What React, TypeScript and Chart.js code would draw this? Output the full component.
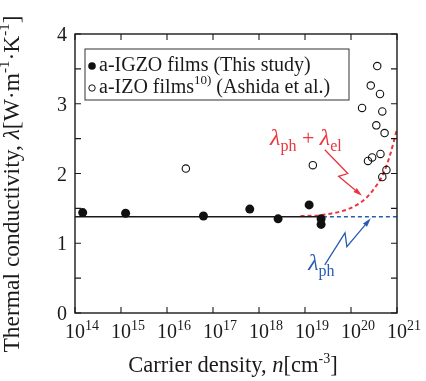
import React, { useEffect, useRef } from "react";
import { Chart, registerables } from "chart.js";
Chart.register(...registerables);

// ---- data ----
const xTickExponents = [14, 15, 16, 17, 18, 19, 20, 21];
const yTickValues = [0, 1, 2, 3, 4];
const yMinorValues = [0.5, 1.5, 2.5, 3.5];

const igzoDensity = [1.47e14, 1.26e15, 6.2e16, 6.3e17, 2.6e18, 1.23e19, 2.24e19, 2.24e19];
const igzoConductivity = [1.44, 1.43, 1.39, 1.49, 1.35, 1.55, 1.35, 1.27];

const izoDensity = [2.57e16, 1.48e19, 3.72e20, 2.69e20, 4.27e20, 1.74e20, 4.79e20, 3.55e20, 5.37e20, 2.88e20, 2.34e20, 4.37e20, 5.89e20, 4.79e20];
const izoConductivity = [2.07, 2.12, 3.54, 3.26, 3.14, 2.94, 2.89, 2.69, 2.58, 2.23, 2.18, 2.28, 2.05, 1.95];

const phononSolidDensity = [1e14, 2.45e19];
const phononSolidConductivity = [1.38, 1.38];
const phononDashDensity = [2.45e19, 1e21];
const phononDashConductivity = [1.38, 1.38];
const totalDensity = [8e18, 2e19, 4e19, 8e19, 1.26e20, 2e20, 3.16e20, 5e20, 7.1e20, 1e21];
const totalConductivity = [1.39, 1.40, 1.43, 1.48, 1.54, 1.63, 1.78, 1.99, 2.27, 2.64];

const RED = "rgb(236,52,62)";
const BLUE = "rgb(40,92,180)";
const FAM = '"Liberation Serif", "Times New Roman", serif';

const pts = (xs: number[], ys: number[]) => xs.map((x, i) => ({ x, y: ys[i] }));

type Part = { t: string; size: number; style?: string; dy?: number };

function drawRich(ctx: CanvasRenderingContext2D, parts: Part[], x: number, y: number, align: "left" | "center" | "right", color: string) {
  const widths = parts.map((p) => {
    ctx.font = `${p.style || ""} ${p.size}px ${FAM}`;
    return ctx.measureText(p.t).width;
  });
  const total = widths.reduce((a, b) => a + b, 0);
  let cx = align === "left" ? x : align === "center" ? x - total / 2 : x - total;
  ctx.fillStyle = color;
  ctx.textAlign = "left";
  ctx.textBaseline = "alphabetic";
  parts.forEach((p, i) => {
    ctx.font = `${p.style || ""} ${p.size}px ${FAM}`;
    ctx.fillText(p.t, cx, y + (p.dy || 0));
    cx += widths[i];
  });
}

function arrowPath(ctx: CanvasRenderingContext2D, pts: { x: number; y: number }[], color: string) {
  ctx.save();
  ctx.strokeStyle = color;
  ctx.fillStyle = color;
  ctx.lineWidth = 1.3;
  ctx.setLineDash([]);
  const n = pts.length;
  const a = pts[n - 2];
  const b = pts[n - 1];
  const ang = Math.atan2(b.y - a.y, b.x - a.x);
  const len = 9;
  const hw = 2.6;
  const bx = b.x - len * Math.cos(ang);
  const by = b.y - len * Math.sin(ang);
  ctx.beginPath();
  ctx.moveTo(pts[0].x, pts[0].y);
  for (let i = 1; i < n - 1; i++) ctx.lineTo(pts[i].x, pts[i].y);
  ctx.lineTo(bx, by);
  ctx.stroke();
  ctx.beginPath();
  ctx.moveTo(b.x, b.y);
  ctx.lineTo(bx + hw * Math.sin(ang), by - hw * Math.cos(ang));
  ctx.lineTo(bx - hw * Math.sin(ang), by + hw * Math.cos(ang));
  ctx.closePath();
  ctx.fill();
  ctx.restore();
}

const framePlugin = {
  id: "frame",
  afterDatasetsDraw(chart: any) {
    const ctx: CanvasRenderingContext2D = chart.ctx;
    const { left, right, top, bottom } = chart.chartArea;
    const xs = chart.scales.x;
    const ys = chart.scales.y;
    const P = (lx: number, y: number) => ({ x: xs.getPixelForValue(Math.pow(10, lx)), y: ys.getPixelForValue(y) });
    ctx.save();
    // box
    ctx.strokeStyle = "#1a1a1a";
    ctx.lineWidth = 1.4;
    ctx.setLineDash([]);
    ctx.strokeRect(left, top, right - left, bottom - top);
    // ticks
    ctx.lineWidth = 1.1;
    const tl = 6;
    ctx.beginPath();
    xTickExponents.forEach((e) => {
      const px = xs.getPixelForValue(Math.pow(10, e));
      ctx.moveTo(px, bottom);
      ctx.lineTo(px, bottom - tl);
      ctx.moveTo(px, top);
      ctx.lineTo(px, top + tl);
    });
    [...yTickValues, ...yMinorValues].forEach((v) => {
      const py = ys.getPixelForValue(v);
      ctx.moveTo(left, py);
      ctx.lineTo(left + tl, py);
      ctx.moveTo(right, py);
      ctx.lineTo(right - tl, py);
    });
    ctx.stroke();
    // x tick labels
    xTickExponents.forEach((e) => {
      const px = xs.getPixelForValue(Math.pow(10, e));
      ctx.font = `20px ${FAM}`;
      const w = ctx.measureText("10").width;
      drawRich(ctx, [{ t: "10", size: 20 }, { t: String(e), size: 14, dy: -8 }], px - w / 2, bottom + 25, "left", "#1a1a1a");
    });
    // y tick labels
    yTickValues.forEach((v) => {
      const py = ys.getPixelForValue(v);
      ctx.font = `20px ${FAM}`;
      ctx.fillStyle = "#1a1a1a";
      ctx.textAlign = "right";
      ctx.textBaseline = "alphabetic";
      ctx.fillText(String(v), left - 8, py + 7);
    });
    // x title
    drawRich(
      ctx,
      [
        { t: "Carrier density, ", size: 22.5 },
        { t: "n", size: 22.5, style: "italic" },
        { t: "[cm", size: 22.5 },
        { t: "-3", size: 14, dy: -9 },
        { t: "]", size: 22.5 },
      ],
      (left + right) / 2 - 3,
      bottom + 59,
      "center",
      "#1a1a1a"
    );
    // y title
    ctx.save();
    ctx.translate(19, 184);
    ctx.rotate(-Math.PI / 2);
    drawRich(
      ctx,
      [
        { t: "Thermal conductivity, ", size: 23.5 },
        { t: "λ", size: 23.5, style: "italic" },
        { t: "[W·m", size: 23.5 },
        { t: "-1", size: 15, dy: -10 },
        { t: "·K", size: 23.5 },
        { t: "-1", size: 15, dy: -10 },
        { t: "]", size: 23.5 },
      ],
      0,
      0,
      "center",
      "#1a1a1a"
    );
    ctx.restore();
    // legend
    const lx = left + 10;
    const ly = top + 15;
    ctx.fillStyle = "#fff";
    ctx.fillRect(lx, ly, 264, 51);
    ctx.strokeStyle = "#333";
    ctx.lineWidth = 1;
    ctx.strokeRect(lx, ly, 264, 51);
    ctx.beginPath();
    ctx.arc(lx + 7, ly + 17, 3.8, 0, Math.PI * 2);
    ctx.fillStyle = "#111";
    ctx.fill();
    drawRich(ctx, [{ t: "a-IGZO films (This study)", size: 20 }], lx + 14, ly + 22, "left", "#1a1a1a");
    ctx.beginPath();
    ctx.arc(lx + 7, ly + 39, 3.2, 0, Math.PI * 2);
    ctx.strokeStyle = "#111";
    ctx.lineWidth = 1;
    ctx.stroke();
    drawRich(
      ctx,
      [
        { t: "a-IZO films", size: 20 },
        { t: "10)", size: 13, dy: -9 },
        { t: " (Ashida et al.)", size: 20 },
      ],
      lx + 14,
      ly + 44,
      "left",
      "#1a1a1a"
    );
    // annotations
    const rl = P(18.24, 2.41);
    drawRich(
      ctx,
      [
        { t: "λ", size: 24, style: "italic" },
        { t: "ph", size: 16, dy: 6 },
        { t: " + ", size: 22 },
        { t: "λ", size: 24, style: "italic" },
        { t: "el", size: 16, dy: 6 },
      ],
      rl.x,
      rl.y,
      "left",
      RED
    );
    arrowPath(ctx, [P(19.43, 2.34), P(19.93, 2.0), P(19.73, 1.96), P(20.24, 1.68)], RED);
    const bl = P(19.07, 0.62);
    drawRich(
      ctx,
      [
        { t: "λ", size: 24, style: "italic" },
        { t: "ph", size: 16, dy: 6 },
      ],
      bl.x,
      bl.y,
      "left",
      BLUE
    );
    arrowPath(ctx, [P(19.43, 0.69), P(19.87, 1.15), P(19.91, 0.95), P(20.43, 1.36)], BLUE);
    ctx.restore();
  },
};

export default function App() {
  const ref = useRef<HTMLCanvasElement | null>(null);
  useEffect(() => {
    if (!ref.current) return;
    const chart = new Chart(ref.current, {
      type: "scatter",
      data: {
        datasets: [
          {
            label: "a-IGZO films (This study)",
            data: pts(igzoDensity, igzoConductivity),
            pointRadius: 4.5,
            pointBackgroundColor: "#111",
            pointBorderColor: "#111",
            pointBorderWidth: 0,
            showLine: false,
          },
          {
            label: "a-IZO films (Ashida et al.)",
            data: pts(izoDensity, izoConductivity),
            pointRadius: 3.7,
            pointBackgroundColor: "rgba(255,255,255,0)",
            pointBorderColor: "#111",
            pointBorderWidth: 1.1,
            showLine: false,
          },
          {
            label: "phonon",
            data: pts(phononSolidDensity, phononSolidConductivity),
            showLine: true,
            pointRadius: 0,
            borderColor: "#1a1a1a",
            borderWidth: 1.6,
          },
          {
            label: "phonon extrapolated",
            data: pts(phononDashDensity, phononDashConductivity),
            showLine: true,
            pointRadius: 0,
            borderColor: BLUE,
            borderWidth: 1.5,
            borderDash: [4, 3],
          },
          {
            label: "phonon + electron",
            data: pts(totalDensity, totalConductivity),
            showLine: true,
            pointRadius: 0,
            borderColor: RED,
            borderWidth: 2,
            borderDash: [4, 3],
            cubicInterpolationMode: "monotone",
          },
        ],
      },
      options: {
        animation: false,
        responsive: false,
        events: [],
        layout: { padding: { top: 34, right: 29, left: 0, bottom: 0 } },
        plugins: { legend: { display: false }, tooltip: { enabled: false } },
        scales: {
          x: {
            type: "logarithmic",
            min: 1e14,
            max: 1e21,
            grid: { display: false, drawTicks: false },
            border: { display: false },
            ticks: { display: false },
            afterFit: (s: any) => {
              s.height = 68;
            },
          },
          y: {
            type: "linear",
            min: 0,
            max: 4,
            grid: { display: false, drawTicks: false },
            border: { display: false },
            ticks: { display: false },
            afterFit: (s: any) => {
              s.width = 75;
            },
          },
        },
      },
      plugins: [framePlugin],
    } as any);
    return () => chart.destroy();
  }, []);
  return (
    <div style={{ position: "fixed", left: 0, top: 0, width: 426, height: 381, background: "#fff" }}>
      <canvas ref={ref} width={426} height={381} style={{ display: "block" }} />
    </div>
  );
}
